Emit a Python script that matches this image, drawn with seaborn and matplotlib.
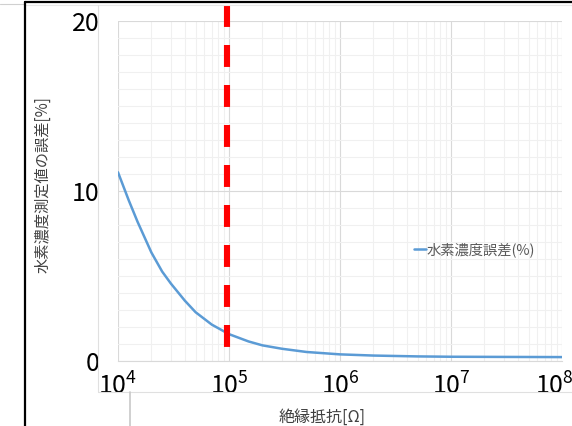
import pandas as pd
import matplotlib.pyplot as plt
import matplotlib.ticker as mticker
import matplotlib.transforms as mtransforms
from matplotlib.lines import Line2D
import seaborn as sns

# データ(絶縁抵抗[Ω] と 水素濃度誤差[%])
resistance = [1e4, 1.25e4, 1.5e4, 2e4, 2.5e4, 3e4, 4e4, 5e4, 7e4, 1e5, 1.5e5, 2e5,
              3e5, 5e5, 1e6, 2e6, 5e6, 1e7, 3e7, 1e8]
error_pct = [11.1, 9.45, 8.19, 6.38, 5.26, 4.55, 3.55, 2.87, 2.14, 1.58, 1.15, 0.92,
             0.72, 0.53, 0.39, 0.32, 0.27, 0.25, 0.24, 0.23]
threshold_r = 9.5e4
series_name = '水素濃度誤差(%)'
x_ticks = [1e4, 1e5, 1e6, 1e7, 1e8]
y_ticks = [0, 10, 20]

df = pd.DataFrame({'R': resistance, series_name: error_pct})

sns.set_theme(style='white')
plt.rcParams['font.family'] = ['Noto Sans CJK JP', 'DejaVu Sans']
plt.rcParams['mathtext.fontset'] = 'custom'
plt.rcParams['mathtext.rm'] = 'Noto Sans'
plt.rcParams['lines.scale_dashes'] = False

W, H = 572, 426
fig = plt.figure(figsize=(W / 100, H / 100), dpi=100)
ax = fig.add_axes([118 / W, 1 - 361 / H, 444 / W, 340 / H])

sns.lineplot(data=df, x='R', y=series_name, ax=ax, color='#5B9BD5',
             linewidth=1.8, label=series_name)

# しきい値の破線
ax.plot([threshold_r, threshold_r], [20.94, 0.65], color='#FF0000', linewidth=4.4,
        linestyle=(0, (15.8, 13)), clip_on=False, zorder=5)

ax.set_xscale('log')
ax.set_xlim(1e4, 1e8)
ax.set_ylim(0, 20)
ax.set_xticks(x_ticks)
ax.xaxis.set_major_formatter(mticker.LogFormatterMathtext())
ax.xaxis.set_minor_locator(mticker.LogLocator(base=10, subs=range(2, 10)))
ax.xaxis.set_minor_formatter(mticker.NullFormatter())
ax.set_yticks(y_ticks)
ax.yaxis.set_minor_locator(mticker.MultipleLocator(1))

ax.grid(True, which='major', color='#d9d9d9', linewidth=0.8)
ax.grid(True, which='minor', color='#f0f0f0', linewidth=0.8)
ax.set_axisbelow(True)
for s in ['top', 'right', 'left']:
    ax.spines[s].set_visible(False)
ax.spines['bottom'].set_color('#d9d9d9')
ax.spines['bottom'].set_linewidth(0.8)

ax.tick_params(axis='x', which='both', length=0, pad=9, labelsize=18, colors='#000000')
ax.tick_params(axis='y', which='both', length=0, pad=13, labelsize=18, colors='#000000')

# 右端のラベルを内側へ
fig.canvas.draw()
last = ax.get_xticklabels()[-1]
last.set_transform(last.get_transform() +
                   mtransforms.ScaledTranslation(-8 / 100, 0, fig.dpi_scale_trans))

ax.set_xlabel('絶縁抵抗[Ω]', fontsize=11.5, color='#404040')
ax.set_ylabel('水素濃度測定値の誤差[%]', fontsize=11, color='#404040')
ax.xaxis.set_label_coords(0.459, -0.141)
ax.yaxis.set_label_coords(-0.15, 0.52)

ax.legend(loc='center left', bbox_to_anchor=(407 / W, 1 - 250 / H),
          bbox_transform=fig.transFigure, frameon=False, fontsize=10.3,
          handlelength=0.8, handletextpad=0.1, borderpad=0, labelcolor='#595959')

# 枠線(スクリーンショットの境界)
def fline(xs, ys, color, lw):
    fig.add_artist(Line2D([x / W for x in xs], [1 - y / H for y in ys],
                          transform=fig.transFigure, color=color, linewidth=lw))

fline([0, 25], [4, 4], '#d0d0d0', 0.8)
fline([25, 572], [5, 5], '#e8e8e8', 0.8)
fline([98, 98], [5, 392], '#e0e0e0', 0.8)
fline([98, 572], [392, 392], '#e0e0e0', 0.8)
fline([130, 130], [392, 426], '#c8c8c8', 1.2)
fline([25, 572], [2, 2], '#000000', 1.6)
fline([25, 25], [2, 426], '#000000', 1.6)

fig.savefig('out.png', dpi=100)
